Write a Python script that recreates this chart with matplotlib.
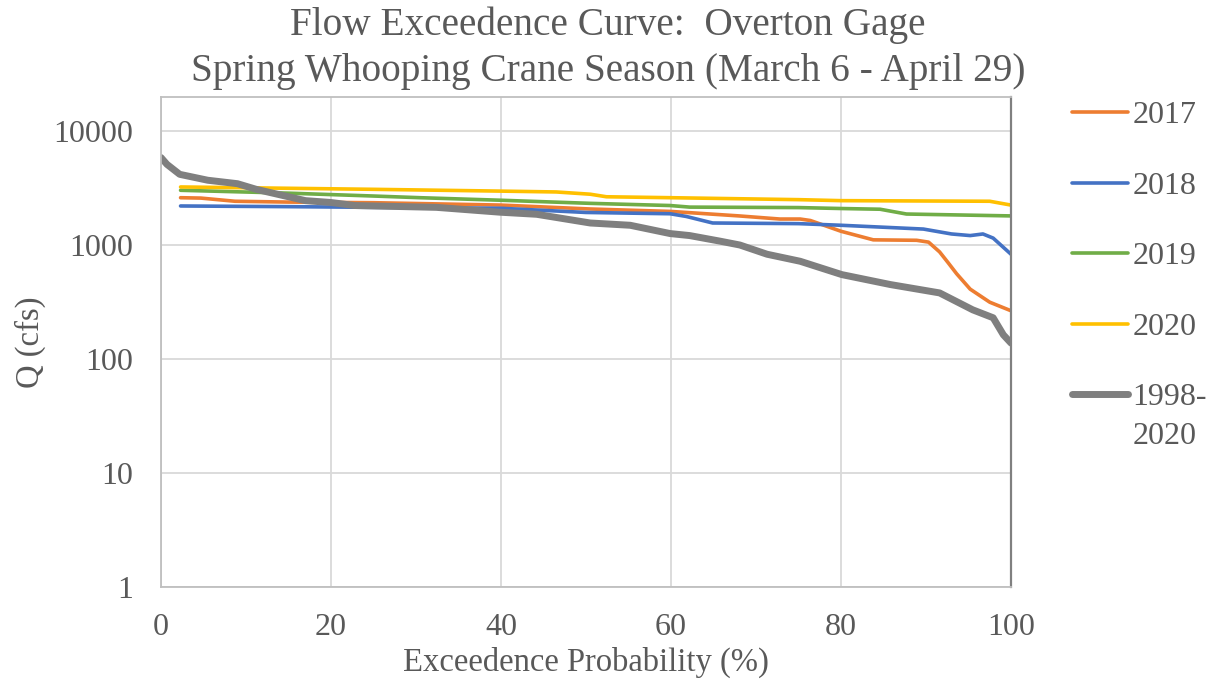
import matplotlib
matplotlib.use("Agg")
import matplotlib.pyplot as plt

# exceedence probability (%) and flow (cfs)
p_2017 = [2.3, 4.7, 8.7, 15, 25, 40, 50.5, 60, 68, 72.8, 75.2, 76.4, 80, 83.8, 88.9, 90.3, 91.6, 92.6, 93.6, 95.2, 97.5, 100]
q_2017 = [2600, 2580, 2420, 2380, 2350, 2240, 2070, 1970, 1800, 1690, 1690, 1640, 1320, 1110, 1100, 1060, 870, 700, 560, 410, 315, 265]

p_2018 = [2.3, 15, 25, 40, 50, 59.9, 61.8, 64.9, 75, 80, 89.7, 93, 95.2, 96.7, 97.9, 100]
q_2018 = [2200, 2170, 2140, 2100, 1930, 1880, 1780, 1560, 1540, 1490, 1380, 1250, 1210, 1250, 1150, 830]

p_2019 = [2.3, 15, 25, 30.5, 40, 50.5, 59.9, 62.2, 75, 80, 84.6, 87.7, 100]
q_2019 = [3020, 2850, 2690, 2600, 2470, 2320, 2220, 2150, 2130, 2090, 2060, 1870, 1800]

p_2020 = [2.3, 25, 40, 46.5, 50.5, 52.4, 60, 75, 80, 97.5, 100]
q_2020 = [3230, 3080, 2970, 2920, 2790, 2650, 2600, 2500, 2450, 2420, 2240]

p_all = [0, 0.7, 2.2, 5.5, 9, 11.2, 15, 17, 20, 22.8, 25.2, 32.4, 39.9, 44.2, 50.5, 55.2, 59.9, 62.2,
         65.8, 68.1, 71.3, 75.2, 80.1, 85.8, 91.6, 95.5, 97.9, 99.1, 100]
q_all = [5850, 5100, 4170, 3700, 3450, 3080, 2650, 2450, 2360, 2220, 2200, 2140, 1940, 1860, 1560, 1490, 1260, 1210,
         1080, 1000, 830, 720, 550, 450, 380, 270, 230, 163, 138]

x_ticks = [0, 20, 40, 60, 80, 100]
y_ticks = [1, 10, 100, 1000, 10000]
y_ticklabels = ["1", "10", "100", "1000", "10000"]

txt = "#595959"
grid = "#D9D9D9"
plt.rcParams["font.family"] = ["Liberation Serif", "DejaVu Serif"]

fig = plt.figure(figsize=(12.12, 6.84), dpi=100)
ax = fig.add_axes([161 / 1212, 1 - 587 / 684, 850 / 1212, (587 - 96.7) / 684])

ax.plot(p_2017, q_2017, color="#ED7D31", lw=2.6, label="2017", solid_capstyle="round")
ax.plot(p_2018, q_2018, color="#4472C4", lw=2.6, label="2018", solid_capstyle="round")
ax.plot(p_2019, q_2019, color="#70AD47", lw=2.6, label="2019", solid_capstyle="round")
ax.plot(p_2020, q_2020, color="#FFC000", lw=2.6, label="2020", solid_capstyle="round")
ax.plot(p_all, q_all, color="#7F7F7F", lw=5, label="1998-", solid_capstyle="round")

ax.set_yscale("log")
ax.set_xlim(0, 100)
ax.set_ylim(1, 20000)
ax.set_xticks(x_ticks)
ax.set_yticks(y_ticks)
ax.set_yticklabels(y_ticklabels)
ax.minorticks_off()
ax.tick_params(length=0, labelsize=23, colors=txt)
ax.tick_params(axis="y", pad=20)
ax.tick_params(axis="x", pad=19)
ax.grid(True, color=grid, lw=1.3)
ax.set_axisbelow(True)
for s in ["left", "bottom", "top"]:
    ax.spines[s].set_color("#BFBFBF")
    ax.spines[s].set_linewidth(1.3)
ax.spines["right"].set_color("#808080")
ax.spines["right"].set_linewidth(1.6)

ax.set_xlabel("Exceedence Probability (%)", fontsize=23.5, color=txt, labelpad=3)
ax.set_ylabel("Q (cfs)", fontsize=23.5, color=txt, labelpad=5)
fig.suptitle("Flow Exceedence Curve:  Overton Gage\nSpring Whooping Crane Season (March 6 - April 29)",
             fontsize=28.3, color=txt, x=608 / 1212, y=0.99, linespacing=1.32)

leg = ax.legend(loc="upper left", bbox_to_anchor=(1043 / 1212, 1 - 72 / 684), bbox_transform=fig.transFigure,
                frameon=False, fontsize=23, labelcolor=txt, handlelength=1.75, handletextpad=0.15,
                labelspacing=1.29)

# second line of the last legend label, placed under "1998-"
fig.canvas.draw()
bb = leg.get_texts()[-1].get_window_extent()
fig.text(bb.x0 / 1212, (bb.y0 - 39) / 684, "2020", fontsize=23, color=txt, ha="left", va="bottom")

fig.savefig("out.png", dpi=100)
